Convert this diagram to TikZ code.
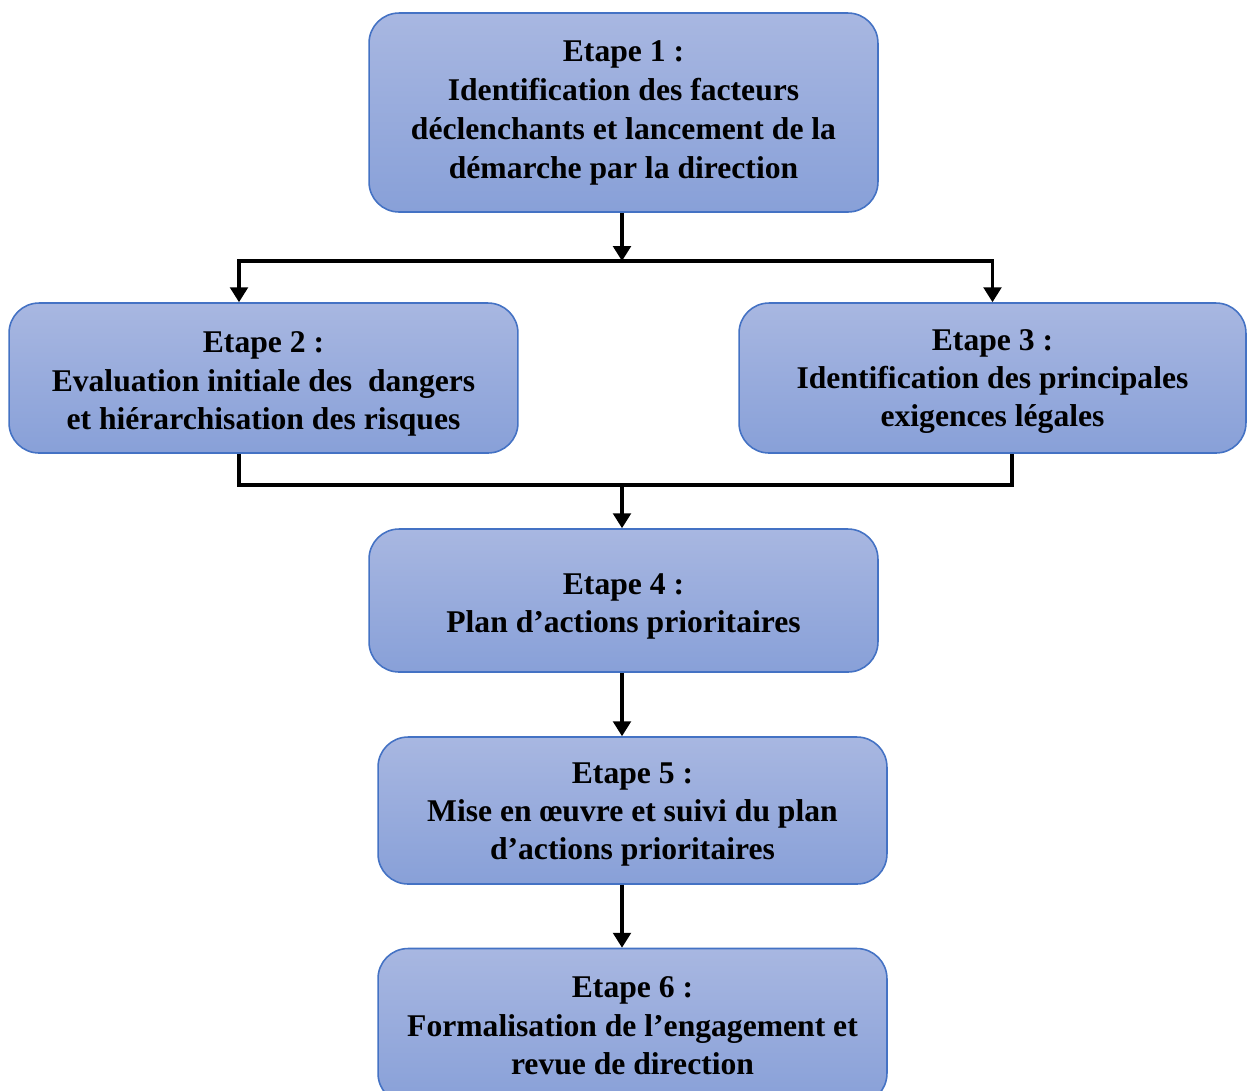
\documentclass[tikz,border=0pt]{standalone}
\usepackage{fontspec}
\setmainfont{Liberation Serif}
\usetikzlibrary{arrows.meta,calc}
\definecolor{boxtop}{RGB}{168,183,225}
\definecolor{boxbot}{RGB}{136,160,216}
\definecolor{boxedge}{RGB}{68,114,196}
\tikzset{
  stepbox/.style={draw=boxedge, line width=0.9pt, top color=boxtop, bottom color=boxbot,
    rounded corners=0.6cm, inner sep=0pt},
  steptext/.style={align=center, inner sep=0pt,
    font=\fontsize{18}{21.8}\selectfont\bfseries},
  link/.style={line width=2pt, black},
  arr/.style={link, -{Triangle[width=10pt,length=8.5pt]}}
}
\begin{document}
\begin{tikzpicture}[x=0.02cm,y=-0.02cm]
\useasboundingbox (0,0) rectangle (1247,1090);
\clip (0,0) rectangle (1247,1090);
\fill[white] (0,0) rectangle (1247,1090);

\node[stepbox, minimum width=10.18cm, minimum height=3.98cm] (b1) at (623.5,112.5) {};
\node[stepbox, minimum width=10.18cm, minimum height=3.0cm] (b2) at (263.5,378) {};
\node[stepbox, minimum width=10.14cm, minimum height=3.0cm] (b3) at (992.5,378) {};
\node[stepbox, minimum width=10.18cm, minimum height=2.86cm] (b4) at (623.5,600.5) {};
\node[stepbox, minimum width=10.18cm, minimum height=2.94cm] (b5) at (632.5,810.5) {};
\node[stepbox, minimum width=10.18cm, minimum height=3.1cm] (b6) at (632.5,1026) {};

\node[steptext, font=\fontsize{18}{22.2}\selectfont\bfseries] (t1) at ($(b1.center)+(0,0)$)
  {Etape 1 :\\Identification des facteurs\\déclenchants et lancement de la\\démarche par la direction};
\node[steptext] (t2) at ($(b2.center)+(0,6)$)
  {Etape 2 :\\Evaluation initiale des \ dangers\\et hiérarchisation des risques};
\node[steptext] (t3) at ($(b3.center)+(0,3.5)$)
  {Etape 3 :\\Identification des principales\\exigences légales};
\node[steptext] (t4) at ($(b4.center)+(0,6)$)
  {Etape 4 :\\Plan d’actions prioritaires};
\node[steptext] (t5) at ($(b5.center)+(0,4)$)
  {Etape 5 :\\Mise en œuvre et suivi du plan\\d’actions prioritaires};
\node[steptext] (t6) at ($(b6.center)+(0,0)$)
  {Etape 6 :\\Formalisation de l’engagement et\\revue de direction};

\coordinate (L) at (239,0);
\coordinate (R) at (1012,0);
\coordinate (M) at (622,0);
\coordinate (j1) at (622,261);
\coordinate (j2) at (622,485);

\draw[arr] (b1.south -| M) -- (j1);
\draw[arr] (j1) -| (b2.north -| L);
\draw[arr] (j1) -| (b3.north);
\draw[link] (b2.south -| L) |- (j2) -| (b3.south -| R);
\draw[arr] (j2) -- (b4.north -| M);
\draw[arr] (b4.south -| M) -- (b5.north -| M);
\draw[arr] (b5.south -| M) -- (b6.north -| M);
\end{tikzpicture}
\end{document}
